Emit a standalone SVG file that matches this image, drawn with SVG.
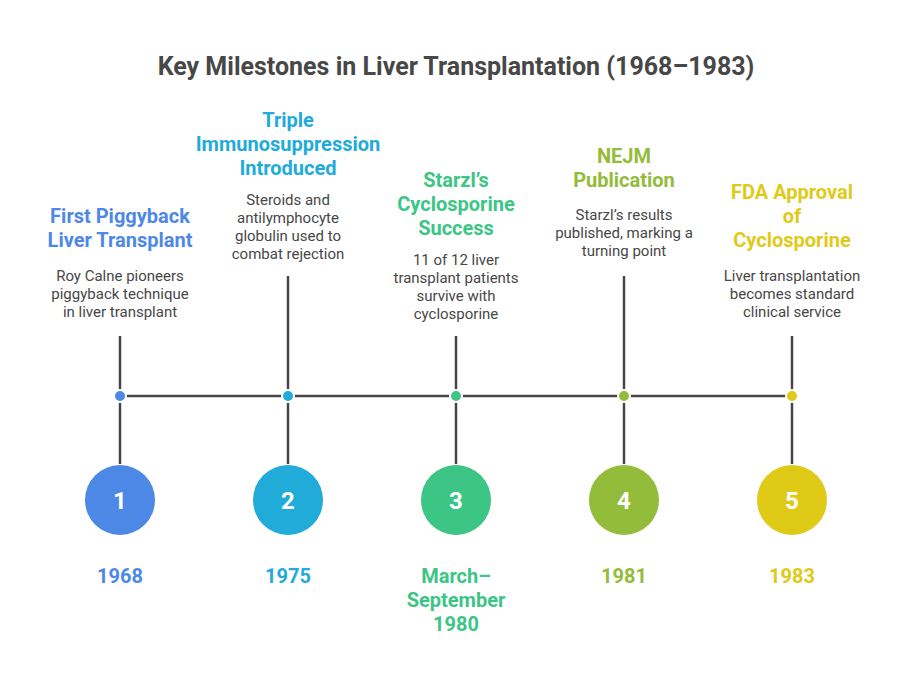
<svg xmlns="http://www.w3.org/2000/svg" width="912" height="684" viewBox="0 0 912 684">
<style>
text{font-family:Roboto,"Liberation Sans",sans-serif;text-anchor:middle}
.title{font-size:25px;font-weight:700;fill:#474747}
.h{font-size:20px;font-weight:700}
.d{font-size:15px;fill:#474747}
.yr{font-size:20px;font-weight:700}
.num{font-size:24px;font-weight:700;fill:#fff}
.ln{stroke:#474747;stroke-width:2.5;fill:none}
.dot{stroke:#fff;stroke-width:2}
.c1{fill:#4E88E6}.c2{fill:#21ABD9}.c3{fill:#3CC585}.c4{fill:#93BC3A}.c5{fill:#DFCA17}
</style>
<rect width="912" height="684" fill="#fff"/>
<text class="title" x="456" y="75">Key Milestones in Liver Transplantation (1968–1983)</text>
<g id="connectors">
<line class="ln" x1="120" y1="396" x2="792" y2="396"/>
<line class="ln" x1="120" y1="336" x2="120" y2="464"/>
<line class="ln" x1="288" y1="276" x2="288" y2="464"/>
<line class="ln" x1="456" y1="336" x2="456" y2="464"/>
<line class="ln" x1="624" y1="276" x2="624" y2="464"/>
<line class="ln" x1="792" y1="336" x2="792" y2="464"/>
</g>
<g id="m1">
<text class="h c1" x="120" y="223">First Piggyback</text>
<text class="h c1" x="120" y="247">Liver Transplant</text>
<text class="d" x="120" y="281">Roy Calne pioneers</text>
<text class="d" x="120" y="299">piggyback technique</text>
<text class="d" x="120" y="317">in liver transplant</text>
<circle class="dot c1" cx="120" cy="396" r="6"/>
<circle class="c1" cx="120" cy="500" r="35"/>
<text class="num" x="120" y="508.5">1</text>
<text class="yr c1" x="120" y="583">1968</text>
</g>
<g id="m2">
<text class="h c2" x="288" y="127">Triple</text>
<text class="h c2" x="288" y="151">Immunosuppression</text>
<text class="h c2" x="288" y="175">Introduced</text>
<text class="d" x="288" y="205">Steroids and</text>
<text class="d" x="288" y="223">antilymphocyte</text>
<text class="d" x="288" y="241">globulin used to</text>
<text class="d" x="288" y="259">combat rejection</text>
<circle class="dot c2" cx="288" cy="396" r="6"/>
<circle class="c2" cx="288" cy="500" r="35"/>
<text class="num" x="288" y="508.5">2</text>
<text class="yr c2" x="288" y="583">1975</text>
</g>
<g id="m3">
<text class="h c3" x="456" y="187">Starzl’s</text>
<text class="h c3" x="456" y="211">Cyclosporine</text>
<text class="h c3" x="456" y="235">Success</text>
<text class="d" x="456" y="265">11 of 12 liver</text>
<text class="d" x="456" y="283">transplant patients</text>
<text class="d" x="456" y="301">survive with</text>
<text class="d" x="456" y="319">cyclosporine</text>
<circle class="dot c3" cx="456" cy="396" r="6"/>
<circle class="c3" cx="456" cy="500" r="35"/>
<text class="num" x="456" y="508.5">3</text>
<text class="yr c3" x="456" y="583">March–</text>
<text class="yr c3" x="456" y="607">September</text>
<text class="yr c3" x="456" y="631">1980</text>
</g>
<g id="m4">
<text class="h c4" x="624" y="163">NEJM</text>
<text class="h c4" x="624" y="187">Publication</text>
<text class="d" x="624" y="220">Starzl’s results</text>
<text class="d" x="624" y="238">published, marking a</text>
<text class="d" x="624" y="256">turning point</text>
<circle class="dot c4" cx="624" cy="396" r="6"/>
<circle class="c4" cx="624" cy="500" r="35"/>
<text class="num" x="624" y="508.5">4</text>
<text class="yr c4" x="624" y="583">1981</text>
</g>
<g id="m5">
<text class="h c5" x="792" y="199">FDA Approval</text>
<text class="h c5" x="792" y="223">of</text>
<text class="h c5" x="792" y="247">Cyclosporine</text>
<text class="d" x="792" y="281">Liver transplantation</text>
<text class="d" x="792" y="299">becomes standard</text>
<text class="d" x="792" y="317">clinical service</text>
<circle class="dot c5" cx="792" cy="396" r="6"/>
<circle class="c5" cx="792" cy="500" r="35"/>
<text class="num" x="792" y="508.5">5</text>
<text class="yr c5" x="792" y="583">1983</text>
</g>
</svg>
